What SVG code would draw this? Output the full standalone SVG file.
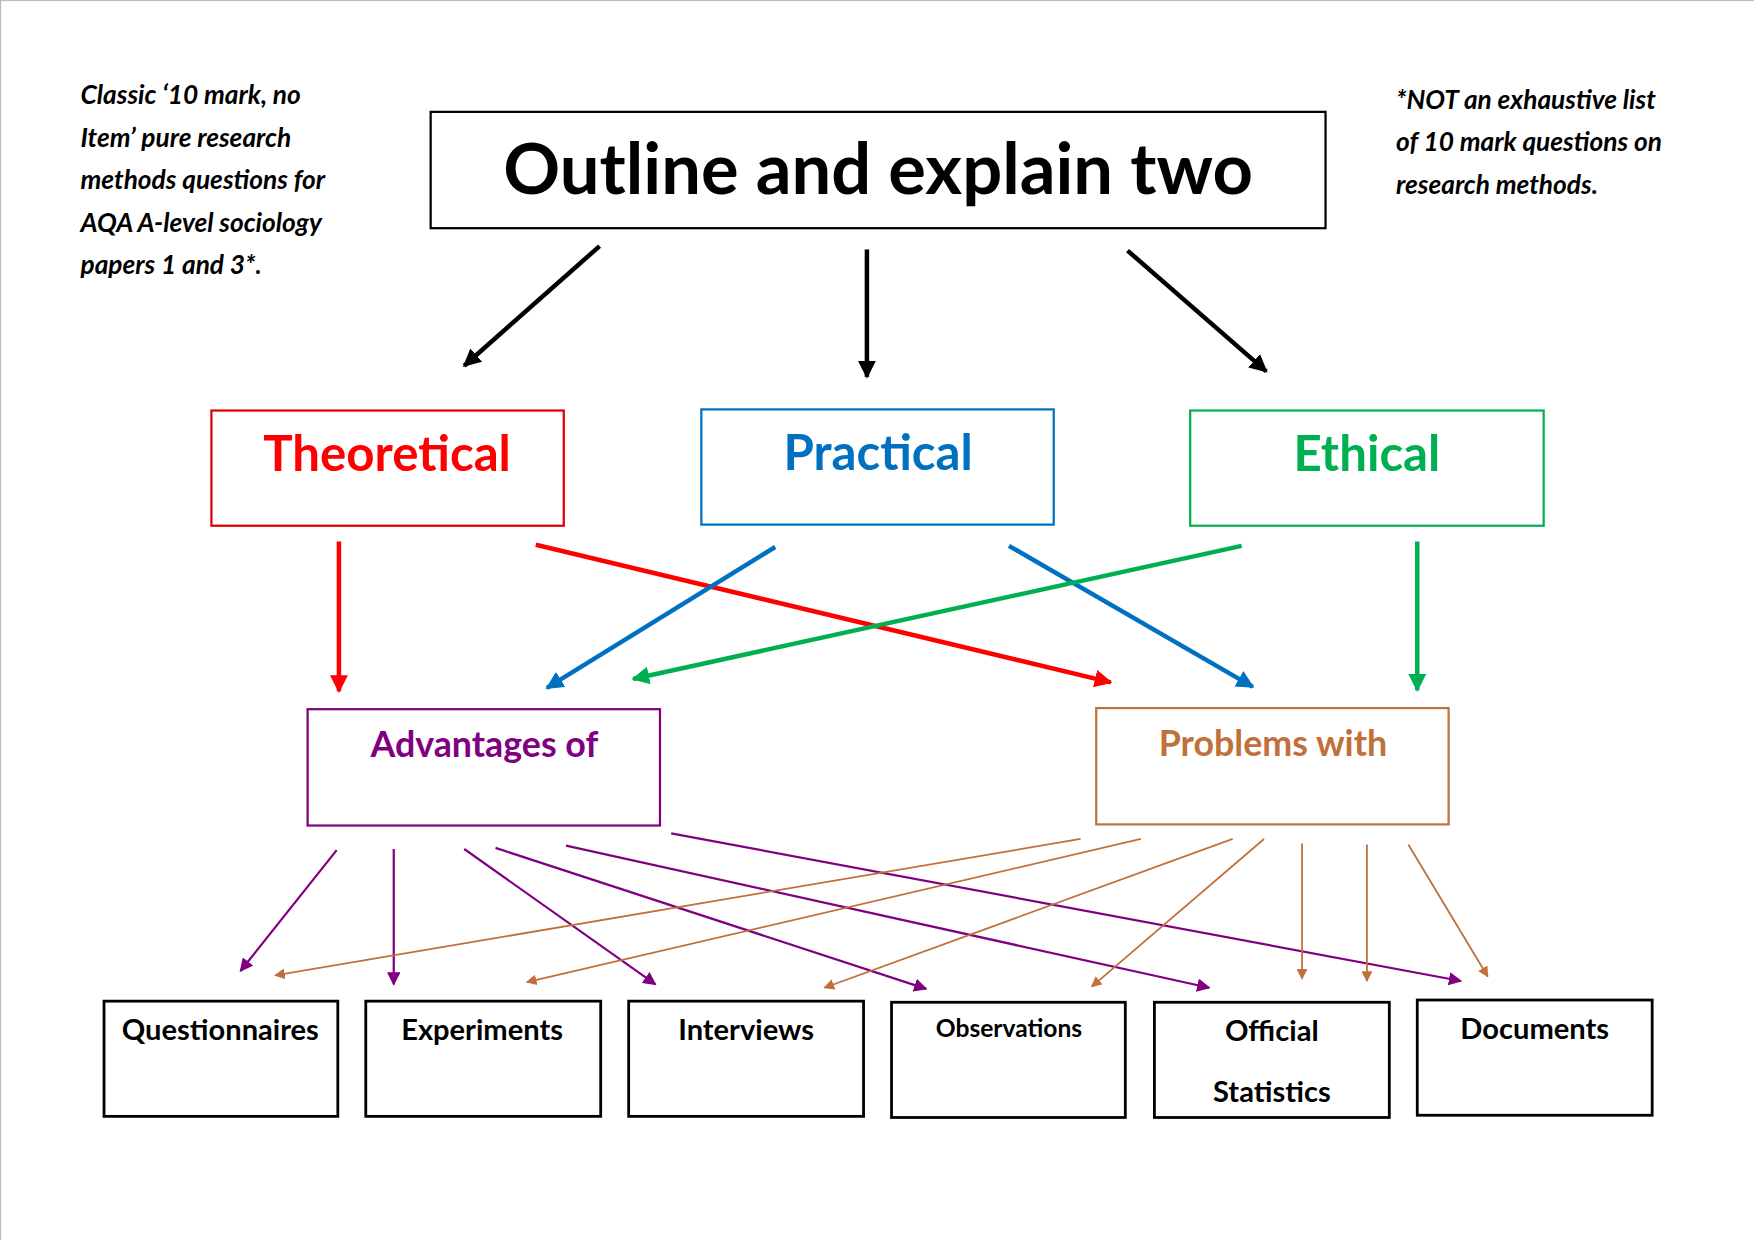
<svg xmlns="http://www.w3.org/2000/svg" width="1754" height="1240" viewBox="0 0 1754 1240">
<defs>
<style>
text{font-family:Lato,"Open Sans","Liberation Sans",sans-serif;font-weight:bold;text-anchor:middle}
.note{font-style:italic;font-size:23.5px;text-anchor:start}
.box{fill:#fff;stroke-width:2}
.bb{fill:#fff;stroke:#000;stroke-width:2.5}
.lbl{font-size:26px;fill:#000}
</style>
<marker id="mk" viewBox="0 0 10 10" refX="9" refY="5" markerWidth="4" markerHeight="4" orient="auto"><path d="M0,0L10,5L0,10z" fill="context-stroke"/></marker>
<marker id="mt" viewBox="0 0 10 10" refX="9" refY="5" markerWidth="6" markerHeight="6" orient="auto"><path d="M0,0L10,5L0,10z" fill="context-stroke"/></marker>
</defs>
<rect x="0" y="0" width="1754" height="1240" fill="#fff"/>
<g transform="scale(1.1186)">
<rect x="0.5" y="0.5" width="1580" height="1120" fill="none" stroke="#bbb"/>
<g id="note-left">
<text class="note" x="72" y="93">Classic ‘10 mark, no</text>
<text class="note" x="72" y="131">Item’ pure research</text>
<text class="note" x="72" y="169">methods questions for</text>
<text class="note" x="72" y="207">AQA A-level sociology</text>
<text class="note" x="72" y="245">papers 1 and 3*.</text>
</g>
<g id="note-right">
<text class="note" x="1248" y="97">*NOT an exhaustive list</text>
<text class="note" x="1248" y="135">of 10 mark questions on</text>
<text class="note" x="1248" y="173">research methods.</text>
</g>
<g id="title"><rect x="385" y="100" width="800" height="104" fill="#fff" stroke="#000" stroke-width="2"/><text x="785" y="173" font-size="63">Outline and explain two</text></g>
<g id="theoretical"><rect class="box" x="189" y="367" width="315" height="103" stroke="#e00000"/><text x="346" y="421" font-size="44" fill="#ff0000">Theoretical</text></g>
<g id="practical"><rect class="box" x="627" y="366" width="315" height="103" stroke="#0070c0"/><text x="785" y="420" font-size="44" fill="#0070c0">Practical</text></g>
<g id="ethical"><rect class="box" x="1064" y="367" width="316" height="103" stroke="#00b050"/><text x="1222" y="421" font-size="44" fill="#00b050">Ethical</text></g>
<g id="advantages"><rect class="box" x="275" y="634" width="315" height="104" stroke="#800080"/><text x="433" y="677" font-size="32" fill="#800080">Advantages of</text></g>
<g id="problems"><rect class="box" x="980" y="633" width="315" height="104" stroke="#c0703a"/><text x="1138" y="676" font-size="32" fill="#c0703a">Problems with</text></g>
<g id="questionnaires"><rect class="bb" x="93" y="895" width="209" height="103"/><text class="lbl" x="197" y="930">Questionnaires</text></g>
<g id="experiments"><rect class="bb" x="327" y="895" width="210" height="103"/><text class="lbl" x="431" y="930">Experiments</text></g>
<g id="interviews"><rect class="bb" x="562" y="895" width="210" height="103"/><text class="lbl" x="667" y="930">Interviews</text></g>
<g id="observations"><rect class="bb" x="797" y="896" width="209" height="103"/><text x="902" y="927" font-size="22">Observations</text></g>
<g id="official"><rect class="bb" x="1032" y="896" width="210" height="103"/><text class="lbl" x="1137" y="931">Official</text><text class="lbl" x="1137" y="985">Statistics</text></g>
<g id="documents"><rect class="bb" x="1267" y="894" width="210" height="103"/><text class="lbl" x="1372" y="929">Documents</text></g>
<g id="connectors" fill="none">
<g stroke="#000" stroke-width="4" marker-end="url(#mk)">
<line x1="536" y1="220" x2="415" y2="327"/><line x1="775" y1="223" x2="775" y2="337"/><line x1="1008" y1="224" x2="1132" y2="332"/>
</g>
<g stroke-width="4" marker-end="url(#mk)">
<line stroke="#ff0000" x1="303" y1="484" x2="303" y2="618"/><line stroke="#ff0000" x1="479" y1="487" x2="993" y2="610"/>
<line stroke="#0070c0" x1="693" y1="489" x2="489" y2="615"/><line stroke="#0070c0" x1="902" y1="488" x2="1120" y2="614"/>
<line stroke="#00b050" x1="1110" y1="488" x2="566" y2="607"/><line stroke="#00b050" x1="1267" y1="484" x2="1267" y2="617"/>
</g>
<g stroke="#800080" stroke-width="2" marker-end="url(#mt)">
<line x1="301" y1="760" x2="215" y2="868"/><line x1="352" y1="759" x2="352" y2="880"/><line x1="415" y1="759" x2="586" y2="880"/><line x1="443" y1="758" x2="828" y2="884"/><line x1="506" y1="756" x2="1081" y2="883"/><line x1="600" y1="745" x2="1306" y2="877"/>
</g>
<g stroke="#c0703a" stroke-width="1.6" marker-end="url(#mt)">
<line x1="966" y1="750" x2="246" y2="872"/><line x1="1020" y1="750" x2="471" y2="878"/><line x1="1102" y1="750" x2="737" y2="883"/><line x1="1130" y1="750" x2="976" y2="882"/><line x1="1164" y1="754" x2="1164" y2="875"/><line x1="1222" y1="755" x2="1222" y2="877"/><line x1="1259" y1="755" x2="1330" y2="873"/>
</g>
</g>
</g>
</svg>
